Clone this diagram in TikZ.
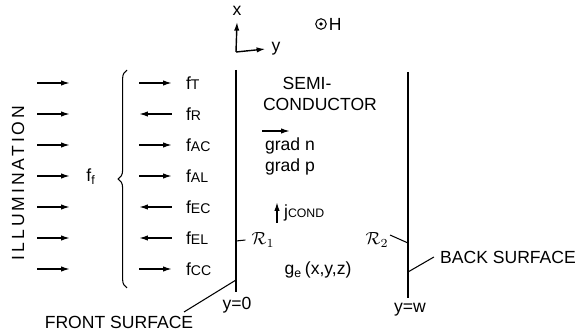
\documentclass[tikz,border=0pt]{standalone}
\usepackage{fontspec}
\setmainfont{Liberation Sans}
\usetikzlibrary{calc, arrows.meta, decorations.pathreplacing}

\begin{document}
\begin{tikzpicture}[x=0.02cm, y=-0.02cm, font=\fontsize{10}{12}\selectfont,
    >={Latex[length=5pt, width=3pt]},
    ray/.style={->, thick},
    surf/.style={thick},
    lead/.style={semithick}]
    \useasboundingbox (0,0) rectangle (579,331);
    % axes and field
    \coordinate (O) at (236,52);
    \node (xl) at (237,11) {x};
    \node (yl) at (276,49) {y};
    \draw[ray] (O) -- (xl.south);
    \draw[ray] (O) -- (yl.west);
    \node[draw, circle, inner sep=0pt, minimum size=6pt, semithick] (hc) at (321,24) {};
    \fill (hc) circle (1.1pt);
    \node[anchor=west, inner sep=1pt] (hl) at (hc.east) {H};
    % illumination
    \node[rotate=90] (ill) at (18,183) {\addfontfeature{LetterSpace=17}ILLUMINATION};
    \foreach \i in {0,...,6}
        \draw[ray] (37,83+31*\i) coordinate (ia\i) -- (70,83+31*\i) coordinate (ib\i);
    \node (ff) at (91,177) {f\textsubscript{f}};
    \draw[semithick, decorate, decoration={brace, amplitude=5pt}] (127,288) coordinate (bra) -- (127,70) coordinate (brb);
    % components
    \foreach \n/\d [count=\i from 0] in {T/->, R/<-, AC/->, AL/->, EC/<-, EL/<-, CC/->} {
        \node[anchor=west, inner sep=1pt] (f\n) at (184,83+31*\i) {f{\footnotesize \n}};
        \coordinate (a\n) at (139,83+31*\i);
        \draw[thick, \d] (a\n) -- ($(f\n.west)+(-12,0)$);
    }
    % surfaces
    \coordinate (ft) at (236,70);
    \coordinate (fb) at (236,292);
    \coordinate (bt) at (408,72);
    \coordinate (bb) at (408,298);
    \draw[surf] (ft) -- (fb);
    \draw[surf] (bt) -- (bb);
    \node (y0) at (237,305) {y=0};
    \node (yw) at (410,310) {y=w};
    \node (front) at (119,322) {FRONT SURFACE};
    \coordinate (fl) at (236,280);
    \coordinate (fe) at (184,312);
    \draw[lead] (fe) -- (fl);
    \node (back) at (508,257) {BACK SURFACE};
    \coordinate (bl) at (408,272);
    \draw[lead] (back.west) -- (bl);
    \node (r1) at (263,240) {$\mathcal{R}_1$};
    \coordinate (r1l) at (236,241);
    \draw[lead] (r1l) -- (r1.west);
    \node (r2) at (377,240) {$\mathcal{R}_2$};
    \coordinate (r2l) at (408,243);
    \coordinate (r2e) at (390,235);
    \draw[lead] (r2e) -- (r2l);
    % bulk
    \node (semi) at (307,83) {SEMI-};
    \node (cond) at (320,104) {CONDUCTOR};
    \node (gn) at (290,146) {grad n};
    \node (gp) at (290,167) {grad p};
    \coordinate (gna) at (262,131);
    \draw[ray] (gna) -- ++(28,0) coordinate (gnb);
    \node[anchor=west, inner sep=1pt] (jc) at (282,213) {j{\scriptsize COND}};
    \coordinate (ja) at (277,223);
    \draw[ray] (ja) -- ++(0,-21) coordinate (jb);
    \node (ge) at (318,270) {g\textsubscript{e}\,(x,y,z)};
\end{tikzpicture}
\end{document}
